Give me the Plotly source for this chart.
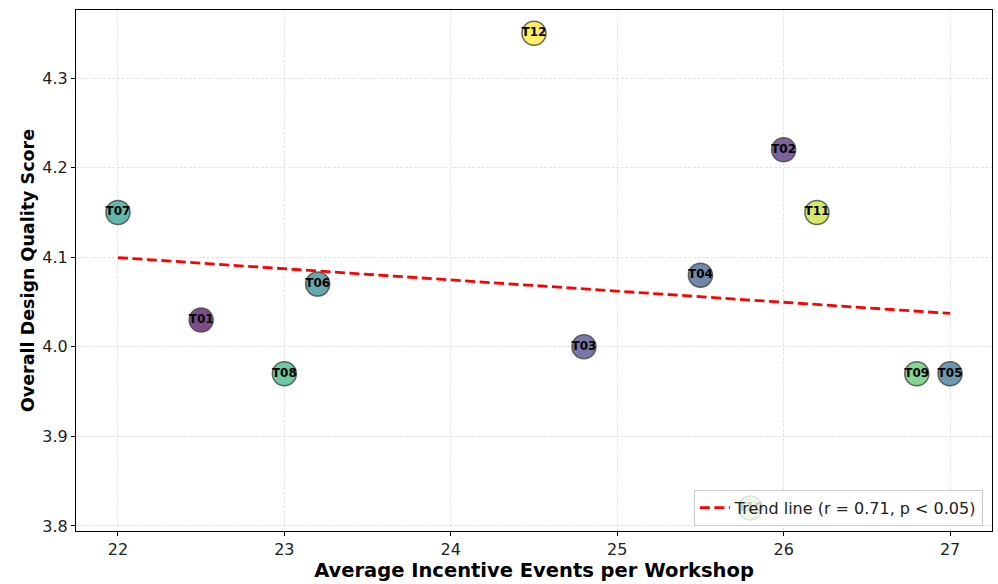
import numpy as np
import plotly.graph_objects as go

# Workshop teams: incentive events vs. design quality
teams = ["T01", "T02", "T03", "T04", "T05", "T06",
         "T07", "T08", "T09", "T10", "T11", "T12"]
incentive_events = [22.5, 26.0, 24.8, 25.5, 27.0, 23.2,
                    22.0, 23.0, 26.8, 25.8, 26.2, 24.5]
quality_score = [4.03, 4.22, 4.00, 4.08, 3.97, 4.07,
                 4.15, 3.97, 3.97, 3.82, 4.15, 4.35]
legend_label = "Trend line (r = 0.71, p < 0.05)"

FONT = "DejaVu Sans"

x = np.array(incentive_events)
y = np.array(quality_score)
slope, intercept = np.polyfit(x, y, 1)
x_fit = np.array([x.min(), x.max()])
y_fit = slope * x_fit + intercept

fig = go.Figure()

fig.add_trace(go.Scatter(
    x=incentive_events,
    y=quality_score,
    mode="markers+text",
    text=teams,
    textposition="middle center",
    textfont=dict(family=FONT, size=12, color="black", weight="bold"),
    marker=dict(
        size=24,
        color=list(range(len(teams))),
        colorscale="Viridis",
        cmin=0,
        cmax=len(teams) - 1,
        opacity=0.7,
        line=dict(color="rgba(0,0,0,0.85)", width=1.5),
    ),
    showlegend=False,
    hoverinfo="skip",
))

fig.add_trace(go.Scatter(
    x=x_fit,
    y=y_fit,
    mode="lines",
    line=dict(color="#ff0000", width=2.8, dash="10px,4.5px"),
    name=legend_label,
))

axis_common = dict(
    showline=True,
    linecolor="black",
    linewidth=1,
    mirror=True,
    ticks="outside",
    ticklen=4,
    tickcolor="black",
    showgrid=True,
    gridcolor="rgba(0,0,0,0.1)",
    griddash="3px,1.5px",
    gridwidth=1,
    zeroline=False,
    tickfont=dict(family=FONT, size=16, color="#222"),
)

fig.update_layout(
    width=998,
    height=584,
    margin=dict(l=76, r=6, t=10, b=53),
    plot_bgcolor="white",
    paper_bgcolor="white",
    font=dict(family=FONT, color="black"),
    xaxis=dict(
        range=[21.748, 27.252],
        tickvals=[22, 23, 24, 25, 26, 27],
        title=dict(text="<b>Average Incentive Events per Workshop</b>",
                   font=dict(family=FONT, size=19.5), standoff=2),
        **axis_common,
    ),
    yaxis=dict(
        range=[3.7944, 4.376],
        tickvals=[3.8, 3.9, 4.0, 4.1, 4.2, 4.3],
        ticktext=["3.8", "3.9", "4.0", "4.1", "4.2", "4.3"],
        title=dict(text="<b>Overall Design Quality Score</b>",
                   font=dict(family=FONT, size=17.5), standoff=3),
        **axis_common,
    ),
    legend=dict(
        x=0.99,
        y=0.01,
        xanchor="right",
        yanchor="bottom",
        bgcolor="rgba(255,255,255,0.8)",
        bordercolor="#cccccc",
        borderwidth=1,
        font=dict(family=FONT, size=16, color="#222"),
    ),
)

fig.write_html("out.html")
